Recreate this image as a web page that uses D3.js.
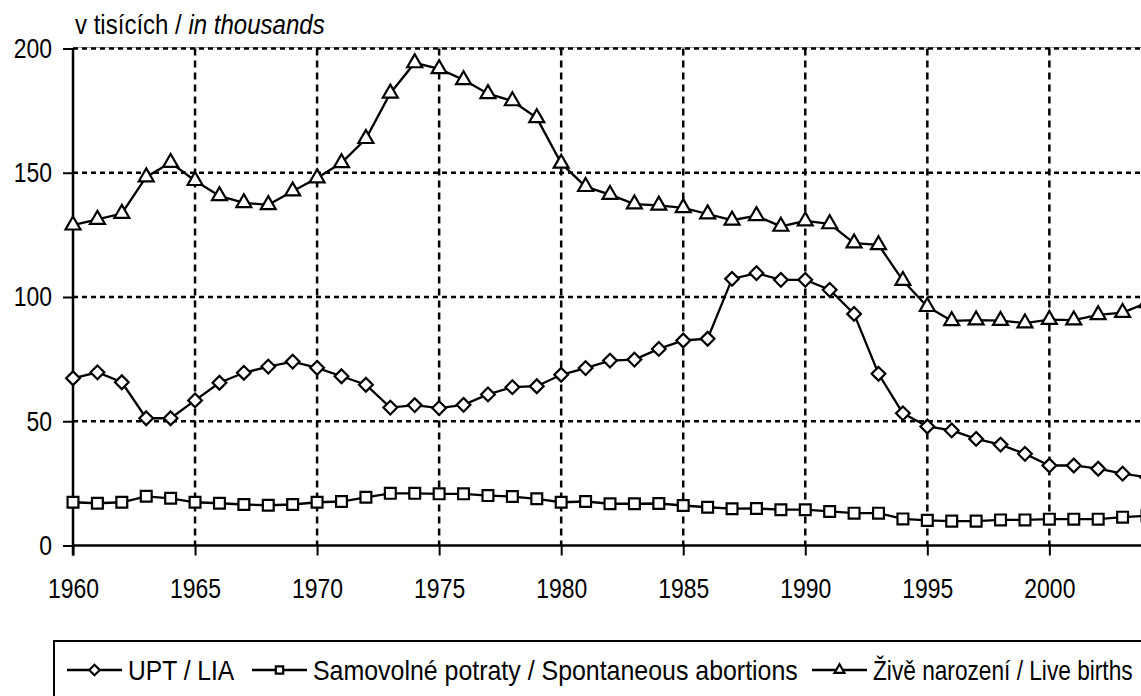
<!DOCTYPE html>
<html>
<head>
<meta charset="utf-8">
<script src="https://cdn.jsdelivr.net/npm/d3@7"></script>
<style>
	html, body { margin: 0; padding: 0; background: #fff; overflow: hidden; }
	svg { display: block; }
	text { font-family: "Liberation Sans Narrow", "Arial Narrow", "Liberation Sans", Arial, sans-serif; fill: #000; }
</style>
</head>
<body>
<div id="chart"></div>
<script>
const years = d3.range(1960, 2005);
const xTicks = [1960, 1965, 1970, 1975, 1980, 1985, 1990, 1995, 2000];
const yTicks = [0, 50, 100, 150, 200];

// values in thousands
const upt = [67.3, 69.7, 65.7, 51.2, 51.2, 58.4, 65.5, 69.5, 72.0, 74.0,
	71.5, 68.1, 64.7, 55.5, 56.5, 55.3, 56.6, 60.8, 63.7, 64.1,
	68.7, 71.4, 74.4, 74.8, 79.1, 82.5, 83.2, 107.3, 109.6, 106.9,
	106.9, 102.9, 93.2, 69.1, 53.2, 47.9, 46.3, 42.9, 40.6, 36.9,
	32.2, 32.2, 30.9, 28.9, 27.5];
const spontaneous = [17.4, 17.0, 17.4, 19.8, 19.0, 17.4, 17.0, 16.5, 16.2, 16.5,
	17.4, 17.7, 19.4, 21.0, 21.0, 20.8, 20.8, 20.1, 19.7, 18.8,
	17.4, 17.7, 16.8, 16.8, 16.9, 16.1, 15.4, 14.8, 14.9, 14.4,
	14.4, 13.7, 13.0, 13.0, 10.7, 10.1, 9.8, 9.8, 10.3, 10.3,
	10.6, 10.6, 10.6, 11.4, 12.0];
const births = [128.9, 131.2, 133.6, 148.3, 154.1, 146.8, 140.7, 137.9, 137.1, 142.6,
	147.9, 154.0, 163.7, 182.0, 194.2, 191.8, 187.4, 181.8, 178.9, 172.1,
	153.8, 144.4, 141.2, 137.4, 136.9, 135.9, 133.4, 130.9, 132.7, 128.4,
	130.6, 129.4, 121.7, 121.0, 106.6, 96.1, 90.4, 90.7, 90.5, 89.5,
	90.9, 90.7, 92.8, 93.7, 97.7];

const seriesNames = ["UPT / LIA", "Samovolné potraty / Spontaneous abortions", "Živě narození / Live births"];
const seriesValues = [upt, spontaneous, births];
const seriesSymbols = [d3.symbolDiamond2, d3.symbolSquare2, d3.symbolTriangle2];

const width = 1141;
const height = 696;
const marginLeft = 73;
const plotTop = 48.5;
const plotBottom = 545.5;

const x = d3.scaleLinear().domain([1960, 2004]).range([marginLeft, 1147]);
const y = d3.scaleLinear().domain([0, 200]).range([plotBottom, plotTop]);

// no Arial Narrow here, so squeeze the regular sans around the text's anchor
function narrow(factor) {
	return (sel) => sel.each(function () {
		const t = d3.select(this);
		const tx = +t.attr("x") || 0;
		t.attr("x", 0).attr("transform", `translate(${tx},0) scale(${factor},1)`);
	});
}

const svg = d3.select("#chart").append("svg")
	.attr("width", width)
	.attr("height", height);

// top border of plot area
svg.append("line")
	.attr("x1", marginLeft).attr("x2", width)
	.attr("y1", y(200) - 1).attr("y2", y(200) - 1)
	.attr("stroke", "#999").attr("stroke-width", 1);

// dashed grid
svg.append("g")
	.selectAll("line")
	.data(yTicks.filter((d) => d > 0))
	.join("line")
	.attr("x1", marginLeft).attr("x2", width)
	.attr("y1", (d) => y(d)).attr("y2", (d) => y(d))
	.attr("stroke", "#000")
	.attr("stroke-width", 2.5)
	.attr("stroke-dasharray", "5,4");

svg.append("g")
	.selectAll("line")
	.data(xTicks.filter((d) => d > 1960))
	.join("line")
	.attr("x1", (d) => x(d)).attr("x2", (d) => x(d))
	.attr("y1", y(200)).attr("y2", y(0))
	.attr("stroke", "#000")
	.attr("stroke-width", 2.5)
	.attr("stroke-dasharray", "7,5");

// axes
const xAxis = (g) => g
	.call(d3.axisBottom(x).tickValues(xTicks).tickFormat(d3.format("d")).tickSize(10).tickPadding(23))
	.call((g) => g.select(".domain").attr("stroke-width", 2.5).attr("d", `M${marginLeft},0H${width}`))
	.call((g) => g.selectAll(".tick line").attr("stroke-width", 2))
	.call((g) => g.selectAll("text").attr("font-size", 28).attr("dy", "0.71em").call(narrow(0.82)));

const yAxis = (g) => g
	.call(d3.axisLeft(y).tickValues(yTicks).tickSize(10).tickPadding(11))
	.call((g) => g.select(".domain").attr("stroke-width", 2.5).attr("d", `M0,${y(200)}V${y(0) + 10}`))
	.call((g) => g.selectAll(".tick line").attr("stroke-width", 2))
	.call((g) => g.selectAll("text").attr("font-size", 28).call(narrow(0.82)));

svg.append("g").attr("transform", `translate(0,${y(0)})`).call(xAxis);
svg.append("g").attr("transform", `translate(${marginLeft},0)`).call(yAxis);

svg.append("text")
	.attr("x", 75).attr("y", 34)
	.attr("font-size", 27)
	.call((t) => {
		t.append("tspan").text("v tisících / ");
		t.append("tspan").attr("font-style", "italic").text("in thousands");
	})
	.call(narrow(0.89));

// series
const line = d3.line().x((d, i) => x(years[i])).y((d) => y(d));
const markerSize = [120, 150, 160];

seriesValues.forEach((values, s) => {
	const g = svg.append("g");
	g.append("path")
		.attr("d", line(values))
		.attr("fill", "none")
		.attr("stroke", "#000")
		.attr("stroke-width", 2.3);
	g.selectAll("path.mark")
		.data(values)
		.join("path")
		.attr("class", "mark")
		.attr("transform", (d, i) => `translate(${x(years[i])},${y(d)})`)
		.attr("d", d3.symbol(seriesSymbols[s], markerSize[s]))
		.attr("fill", "#fff")
		.attr("stroke", "#000")
		.attr("stroke-width", 2.2);
});

// legend
const legend = svg.append("g").attr("transform", "translate(54,641)");
legend.append("rect")
	.attr("x", 0).attr("y", 0)
	.attr("width", 1200).attr("height", 80)
	.attr("fill", "#fff")
	.attr("stroke", "#000")
	.attr("stroke-width", 2);

const legendX = [13, 198, 758];
const legendSqueeze = [0.88, 0.89, 0.81];
seriesNames.forEach((name, s) => {
	const item = legend.append("g").attr("transform", `translate(${legendX[s]},29)`);
	item.append("line")
		.attr("x1", 0).attr("x2", 55)
		.attr("stroke", "#000").attr("stroke-width", 2.3);
	item.append("path")
		.attr("transform", "translate(27.5,0)")
		.attr("d", d3.symbol(seriesSymbols[s], 70))
		.attr("fill", "#fff")
		.attr("stroke", "#000")
		.attr("stroke-width", 2.2);
	item.append("text")
		.attr("x", 61).attr("y", 0)
		.attr("dy", "0.36em")
		.attr("font-size", 28)
		.text(name)
		.call(narrow(legendSqueeze[s]));
});
</script>
</body>
</html>
